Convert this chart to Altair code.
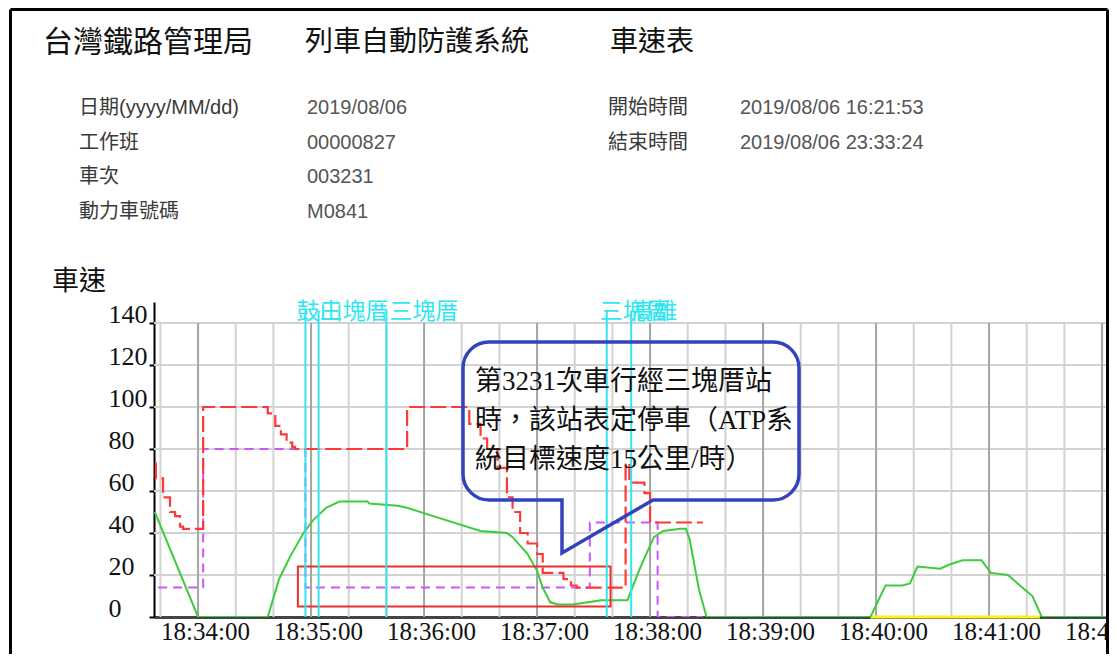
import altair as alt
import pandas as pd

# ---------------- data ----------------
# actual speed (green)
green_times = ["18:33:37", "18:34:00", "18:34:37", "18:34:43", "18:34:49", "18:34:56", "18:35:01",
               "18:35:08", "18:35:15", "18:35:30", "18:35:31", "18:35:46", "18:35:51", "18:36:12",
               "18:36:30", "18:36:44", "18:36:47", "18:36:55", "18:37:00", "18:37:03", "18:37:07",
               "18:37:11", "18:37:19", "18:37:27", "18:37:34", "18:37:48", "18:37:55", "18:38:02",
               "18:38:07", "18:38:16", "18:38:19", "18:38:21", "18:38:26", "18:38:30", "18:39:57",
               "18:40:05", "18:40:14", "18:40:18", "18:40:22", "18:40:34", "18:40:39", "18:40:46",
               "18:40:56", "18:41:01", "18:41:10", "18:41:19", "18:41:23", "18:41:28", "18:42:05"]
green_speeds = [50, 0, 0, 18, 29, 40, 46,
                52, 55, 55, 54, 53, 52, 46,
                41, 40, 38, 30, 22, 14, 7,
                6, 6, 7, 8, 8, 24, 38,
                41, 42, 42, 37, 13, 0, 0,
                15, 15, 16, 24, 23, 25, 27,
                27, 21, 20, 13, 10, 0, 0]

# ATP limit speed (red dashed, stepped)
red_times = ["18:33:37.2", "18:33:37.6", "18:33:41.4", "18:33:45.1", "18:33:47.8", "18:33:50.4",
             "18:33:52", "18:34:02.7", "18:34:37", "18:34:41", "18:34:44", "18:34:47", "18:34:50",
             "18:34:51.5", "18:35:51", "18:36:24", "18:36:30", "18:36:33.5", "18:36:39", "18:36:44",
             "18:36:47", "18:36:51", "18:36:55", "18:37:00", "18:37:03", "18:37:14", "18:37:18",
             "18:37:21", "18:37:47", "18:37:49", "18:37:57", "18:38:00", "18:38:28"]
red_speeds = [73, 66, 57, 50, 48, 43,
              42, 100, 97, 91, 87, 83, 81,
              80, 100, 92, 85, 80, 71, 57,
              50, 40, 35, 30, 21, 18, 15,
              14, 73, 64, 59, 45, 45]

# target speed (magenta dashed, stepped)
mag_times = ["18:33:38.8", "18:34:02.7", "18:34:57", "18:37:28", "18:38:04", "18:38:28"]
mag_speeds = [14, 80, 14, 45, 0, 0]

# station marker lines (cyan) and their labels
station_times = ["18:34:57", "18:35:04", "18:35:40", "18:37:37", "18:37:50"]
station_names = ["鼓山", "三塊厝", "三塊厝", "三塊厝", "高雄"]

# highlighted region (red box)
box_times = ["18:34:53", "18:37:39"]
box_speeds = [5, 24]

# yellow segment on the time axis
yellow_times = ["18:39:57", "18:41:27"]

y_ticks = [0, 20, 40, 60, 80, 100, 120, 140]
x_tick_labels = ["18:34:00", "18:35:00", "18:36:00", "18:37:00", "18:38:00",
                 "18:39:00", "18:40:00", "18:41:00", "18:42:00"]

header = {
    "org": "台灣鐵路管理局",
    "system": "列車自動防護系統",
    "report": "車速表",
}
info_left = [("日期(yyyy/MM/dd)", "2019/08/06"), ("工作班", "00000827"),
             ("車次", "003231"), ("動力車號碼", "M0841")]
info_right = [("開始時間", "2019/08/06 16:21:53"), ("結束時間", "2019/08/06 23:33:24")]
callout_lines = ["第3231次車行經三塊厝站", "時，該站表定停車（ATP系", "統目標速度15公里/時）"]


def tsec(t):
    h, m, s = t.split(":")
    return int(h) * 3600 + int(m) * 60 + float(s)


# ---------------- scales & axes ----------------
X0 = tsec("18:33:36.6")
PX_PER_S = 113 / 60.0
W, H = 952, 315
X1 = X0 + W / PX_PER_S

xs = alt.Scale(domain=[X0, X1], nice=False, zero=False)
ys = alt.Scale(domain=[0, 150], nice=False, zero=True)

xaxis = alt.Axis(values=[tsec(t) for t in x_tick_labels],
                 labelExpr="utcFormat(datum.value*1000, '%H:%M:%S')",
                 labelFont="Liberation Serif", labelFontSize=25, labelColor="#111",
                 labelOffset=7, labelPadding=2, tickSize=0, domainColor="#444",
                 domainWidth=3, grid=False, title=None, labelFlush=False,
                 labelOverlap=False, zindex=0)
yaxis = alt.Axis(values=y_ticks, labelFont="Liberation Serif", labelFontSize=26,
                 labelColor="#111", labelAlign="left", labelBaseline="middle",
                 labelPadding=41, labelOffset=-9, tickSize=5, tickWidth=2,
                 tickColor="#000", domainColor="#000", domainWidth=2, grid=False,
                 title=None, zindex=0)


def X(f):
    return alt.X(f, type="quantitative", scale=xs, axis=xaxis)


def Y(f):
    return alt.Y(f, type="quantitative", scale=ys, axis=yaxis)


layers = []

# horizontal grid
hgrid = pd.DataFrame({"v": y_ticks[1:]})
layers.append(alt.Chart(hgrid).mark_rule(color="#d2d2d2", strokeWidth=2).encode(y=Y("v")))

# vertical grid (every 20 s, minutes darker)
grid_t = list(range(int(tsec("18:33:40")), int(tsec("18:42:20")) + 1, 20))
minor = [t for t in grid_t if t % 60 != 0]
major = [t for t in grid_t if t % 60 == 0]
layers.append(alt.Chart(pd.DataFrame({"t": minor, "y0": 0, "y1": 140})).mark_rule(
    color="#d2d2d2", strokeWidth=2, clip=True).encode(x=X("t"), y=Y("y0"), y2="y1"))
layers.append(alt.Chart(pd.DataFrame({"t": major, "y0": 0, "y1": 140})).mark_rule(
    color="#a4a4a4", strokeWidth=2, clip=True).encode(x=X("t"), y=Y("y0"), y2="y1"))

# magenta target speed
mag = pd.DataFrame({"t": [tsec(t) for t in mag_times], "v": mag_speeds})
layers.append(alt.Chart(mag).mark_line(interpolate="step-after", color="#cc55ff",
                                       strokeWidth=2, strokeDash=[9, 6], clip=True)
              .encode(x=X("t"), y=Y("v")))

# red limit speed
red = pd.DataFrame({"t": [tsec(t) for t in red_times], "v": red_speeds})
layers.append(alt.Chart(red).mark_line(interpolate="step-after", color="#ff3838",
                                       strokeWidth=2.2, strokeDash=[16, 5], clip=True)
              .encode(x=X("t"), y=Y("v")))

# yellow segment on axis
yel = pd.DataFrame({"t0": [tsec(yellow_times[0])], "t1": [tsec(yellow_times[1])], "v": [0]})
layers.append(alt.Chart(yel).mark_rule(color="#ffee22", strokeWidth=3)
              .encode(x=X("t0"), x2="t1", y=Y("v")))

# green actual speed
grn = pd.DataFrame({"t": [tsec(t) for t in green_times], "v": green_speeds})
layers.append(alt.Chart(grn).mark_line(color="#3ccc3c", strokeWidth=2, clip=True)
              .encode(x=X("t"), y=Y("v")))

# red highlight box
box = pd.DataFrame({"t0": [tsec(box_times[0])], "t1": [tsec(box_times[1])],
                    "v0": [box_speeds[0]], "v1": [box_speeds[1]]})
layers.append(alt.Chart(box).mark_rect(stroke="#e8302e", strokeWidth=2, fillOpacity=0)
              .encode(x=X("t0"), x2="t1", y=Y("v0"), y2="v1"))

# cyan station lines
st = pd.DataFrame({"t": [tsec(t) for t in station_times], "y0": 0, "y1": 146,
                   "name": station_names})
layers.append(alt.Chart(st).mark_rule(color="#35e3f0", strokeWidth=2)
              .encode(x=X("t"), y=Y("y0"), y2="y1"))
label_dx = [-9, 1, 3, -7, 0]
for i in range(len(station_names)):
    layers.append(alt.Chart(st.iloc[[i]]).mark_text(
        align="left", baseline="middle", dx=label_dx[i], font="Noto Sans CJK TC",
        fontSize=23, color="#2ee6f2").encode(x=X("t"), y=alt.value(10), text="name:N"))

# callout bubble (outline path relative to its tip)
bubble_path = ("M 91 -53 L 211 -53 A 26 26 0 0 0 237 -79 L 237 -185 "
               "A 26 26 0 0 0 211 -211 L -73 -211 A 26 26 0 0 0 -99 -185 "
               "L -99 -79 A 26 26 0 0 0 -73 -53 L 0 -53 L 0 0 Z")
one = pd.DataFrame({"a": [0]})
layers.append(alt.Chart(one).mark_point(shape=bubble_path, size=4, filled=False,
                                        color="#3343bd", strokeWidth=3.5, opacity=1)
              .encode(x=alt.value(408), y=alt.value(251)))


def txt(s, x, y, size, color="#111", font="Noto Sans CJK TC", weight="normal"):
    return alt.Chart(pd.DataFrame({"s": [s]})).mark_text(
        align="left", baseline="middle", font=font, fontSize=size, color=color,
        fontWeight=weight).encode(x=alt.value(x), y=alt.value(y), text="s:N")


cfont = "Liberation Serif, Noto Sans CJK TC"
for i, line in enumerate(callout_lines):
    layers.append(txt(line, 321, 80 + 39 * i, 27, "#111", cfont))

# header
OX, OY = 154, 302
layers.append(txt(header["org"], 43 - OX, 43 - OY, 30, "#111"))
layers.append(txt(header["system"], 305 - OX, 43 - OY, 28, "#111"))
layers.append(txt(header["report"], 610 - OX, 43 - OY, 28, "#111"))
ifont = "Liberation Sans, Noto Sans CJK TC"
row_y = [108, 143, 177, 212]
for i, (lab, val) in enumerate(info_left):
    layers.append(txt(lab, 79 - OX, row_y[i] - OY, 20, "#3a3a3a", ifont))
    layers.append(txt(val, 307 - OX, row_y[i] - OY, 20, "#555", ifont))
for i, (lab, val) in enumerate(info_right):
    layers.append(txt(lab, 608 - OX, row_y[i] - OY, 20, "#3a3a3a", ifont))
    layers.append(txt(val, 740 - OX, row_y[i] - OY, 20, "#555", ifont))
layers.append(txt("車速", 52 - OX, 282 - OY, 27, "#111"))

# outer frame
def frame(x, x2, y, y2):
    return alt.Chart(one).mark_rule(color="#000", strokeWidth=3).encode(
        x=alt.value(x), x2=alt.value(x2), y=alt.value(y), y2=alt.value(y2))


layers.append(frame(10.5 - OX, 1107.5 - OX, 9.5 - OY, 9.5 - OY))
layers.append(frame(10.5 - OX, 10.5 - OX, 9.5 - OY, 400))
layers.append(frame(1107.5 - OX, 1107.5 - OX, 9.5 - OY, 400))

chart = alt.layer(*layers).properties(
    width=W, height=H, autosize="none",
    padding={"left": 146, "top": 294, "right": 3, "bottom": 37},
    background="white",
).configure_view(stroke=None)

chart.save("out.html", embed_options={"renderer": "svg", "actions": False})
